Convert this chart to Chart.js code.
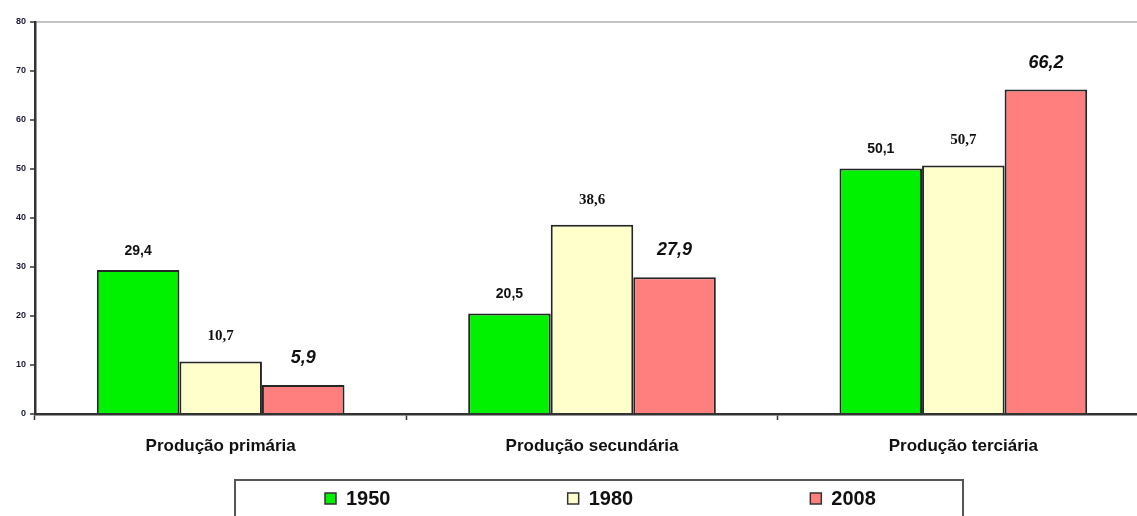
<!DOCTYPE html>
<html>
<head>
<meta charset="utf-8">
<script src="https://cdn.jsdelivr.net/npm/chart.js@4"></script>
<style>
  body { margin: 0; background: #fff; overflow: hidden; }
  #wrap { width: 1150px; height: 516px; }
</style>
</head>
<body>
<div id="wrap"><canvas id="grafico"></canvas></div>
<script>
const categorias = ['Produção primária', 'Produção secundária', 'Produção terciária'];
const anos = ['1950', '1980', '2008'];
const valores1950 = [29.4, 20.5, 50.1];
const valores1980 = [10.7, 38.6, 50.7];
const valores2008 = [5.9, 27.9, 66.2];
const eixoYMax = 80;
const eixoYPasso = 10;

const cores = ['#00F200', '#FFFFCC', '#FF7F7F'];
const estilosRotulo = [
  { font: 'bold 14px "Liberation Sans"', offset: 19 },
  { font: 'bold 15px "Liberation Serif"', offset: 25 },
  { font: 'italic bold 18px "Liberation Sans"', offset: 27 }
];

// rotulos de valor acima das barras
const rotulosPlugin = {
  id: 'rotulos',
  afterDatasetsDraw(chart) {
    const ctx = chart.ctx;
    ctx.save();
    ctx.fillStyle = '#111';
    ctx.textAlign = 'center';
    ctx.textBaseline = 'middle';
    chart.data.datasets.forEach((ds, i) => {
      const meta = chart.getDatasetMeta(i);
      ctx.font = estilosRotulo[i].font;
      meta.data.forEach((bar, j) => {
        const txt = ds.data[j].toFixed(1).replace('.', ',');
        ctx.fillText(txt, bar.x, bar.y - estilosRotulo[i].offset);
      });
    });
    ctx.restore();
  }
};

// legenda em caixa, como no Excel
const legendaPlugin = {
  id: 'legendaCaixa',
  afterDraw(chart) {
    const ctx = chart.ctx;
    const esq = 235, dir = 963, topo = 480;
    const slot = (dir - esq) / chart.data.datasets.length;
    ctx.save();
    ctx.strokeStyle = '#555';
    ctx.lineWidth = 2;
    ctx.strokeRect(esq, topo, dir - esq, 80);
    ctx.font = 'bold 20px "Liberation Sans"';
    ctx.textBaseline = 'middle';
    ctx.textAlign = 'left';
    chart.data.datasets.forEach((ds, i) => {
      const x = esq + 90 + i * slot;
      ctx.fillStyle = ds.backgroundColor;
      ctx.fillRect(x, 493, 11, 11);
      ctx.strokeStyle = '#333';
      ctx.lineWidth = 1.5;
      ctx.strokeRect(x, 493, 11, 11);
      ctx.fillStyle = '#111';
      ctx.fillText(ds.label, x + 21, 499);
    });
    ctx.restore();
  }
};

function montarGrafico() {
  const ctx = document.getElementById('grafico').getContext('2d');
  const series = [valores1950, valores1980, valores2008];
  new Chart(ctx, {
    type: 'bar',
    data: {
      labels: categorias,
      datasets: series.map((vals, i) => ({
        label: anos[i],
        data: vals,
        backgroundColor: cores[i],
        borderColor: '#262626',
        borderWidth: 2,
        categoryPercentage: 0.667,
        barPercentage: 1.0
      }))
    },
    options: {
      responsive: true,
      maintainAspectRatio: false,
      animation: false,
      layout: { padding: { top: 22, right: 1, left: 0, bottom: 0 } },
      plugins: {
        legend: { display: false },
        tooltip: { enabled: false }
      },
      scales: {
        x: {
          afterFit(scale) { scale.height = 102; },
          grid: { drawOnChartArea: false, tickLength: 6, tickColor: '#333', tickWidth: 1.5, offset: true },
          border: { color: '#333', width: 2.5 },
          ticks: { font: { family: 'Liberation Sans', size: 17, weight: 'bold' }, color: '#111', padding: 16 }
        },
        y: {
          min: 0,
          max: eixoYMax,
          afterFit(scale) { scale.width = 35; },
          grid: {
            color: (c) => c.tick && c.tick.value === eixoYMax ? '#c4c4c4' : 'transparent',
            lineWidth: 2,
            tickLength: 5,
            tickColor: '#333',
            tickWidth: 1.5
          },
          border: { color: '#333', width: 2.5 },
          ticks: { stepSize: eixoYPasso, font: { family: 'Liberation Sans', size: 9, weight: 'bold' }, color: '#1a1a33', padding: 4 }
        }
      }
    },
    plugins: [rotulosPlugin, legendaPlugin]
  });
}

montarGrafico();
</script>
</body>
</html>
